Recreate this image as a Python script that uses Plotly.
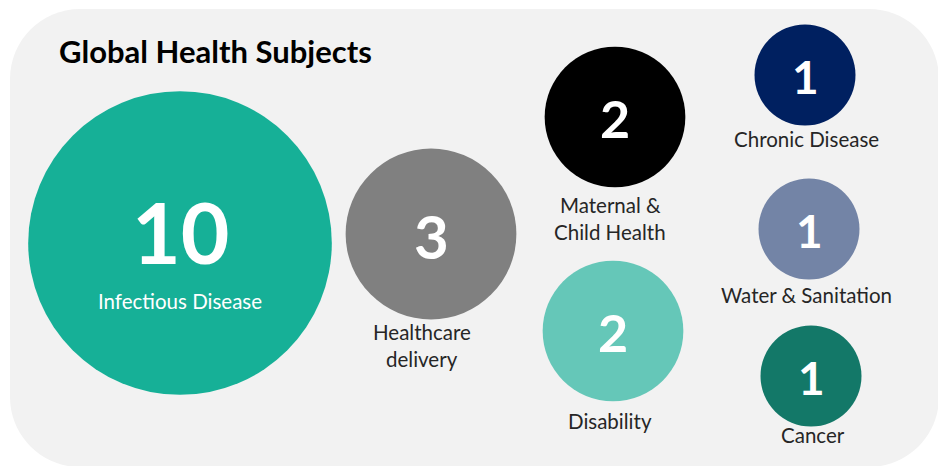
import plotly.graph_objects as go

# Subject counts
subjects = ["Infectious Disease", "Healthcare delivery", "Maternal & Child Health",
            "Disability", "Chronic Disease", "Water & Sanitation", "Cancer"]
counts = [10, 3, 2, 2, 1, 1, 1]

# Display text for each subject (line breaks as drawn)
label_lines = [["Infectious Disease"], ["Healthcare", "delivery"], ["Maternal &", "Child Health"],
               ["Disability"], ["Chronic Disease"], ["Water & Sanitation"], ["Cancer"]]

# Bubble placement on a pixel-sized canvas (x right, y down)
centers_x = [180, 431, 615, 613, 805, 809, 811]
centers_y = [243, 234, 117, 331, 75, 229, 376]
colors = ["#16B097", "#808080", "#000000", "#65C7B8", "#002060", "#7384A6", "#137868"]
# label anchor (centre of first line) and whether it sits inside the bubble
label_x = [180, 422, 610, 610, 806, 806, 813]
label_y = [301, 332, 205, 421, 139, 295, 435]
label_inside = [True, False, False, False, False, False, False]
num_dy = [-12, 2, 1, 1, 1, 1, 1]

W, H = 938, 466


def radius(v):
    return 50.5 * v ** 0.478


FONT = "Lato"

fig = go.Figure()

# rounded panel behind the bubbles
x0, y0, x1, y1, r = 10, 9, 939, 467, 70
k = 0.5523 * r
panel = (f"M {x0+r},{y0} L {x1-r},{y0} C {x1-r+k},{y0} {x1},{y0+r-k} {x1},{y0+r} "
         f"L {x1},{y1-r} C {x1},{y1-r+k} {x1-r+k},{y1} {x1-r},{y1} "
         f"L {x0+r},{y1} C {x0+r-k},{y1} {x0},{y1-r+k} {x0},{y1-r} "
         f"L {x0},{y0+r} C {x0},{y0+r-k} {x0+r-k},{y0} {x0+r},{y0} Z")
fig.add_shape(type="path", path=panel, xref="x", yref="y",
              fillcolor="#F2F2F2", line=dict(width=0), layer="below")

fig.add_trace(go.Scatter(
    x=centers_x, y=centers_y, mode="markers",
    marker=dict(size=[2 * radius(v) for v in counts], color=colors,
                line=dict(width=0), opacity=1),
    text=subjects, hoverinfo="text", showlegend=False,
))

annotations = []
for i, v in enumerate(counts):
    fs = 84 if v >= 10 else (60 if v == 3 else (52 if v == 2 else 46))
    annotations.append(dict(
        x=centers_x[i], y=centers_y[i] + num_dy[i], text=f"<b>{v}</b>",
        showarrow=False, xanchor="center", yanchor="middle",
        font=dict(family=FONT, size=fs, color="white"),
    ))
    for j, line in enumerate(label_lines[i]):
        annotations.append(dict(
            x=label_x[i], y=label_y[i] + 27 * j, text=line,
            showarrow=False, xanchor="center", yanchor="middle",
            font=dict(family=FONT, size=20.5,
                      color="white" if label_inside[i] else "#262626"),
        ))

annotations.append(dict(
    x=57, y=51, text="<b>Global Health Subjects</b>", showarrow=False,
    xanchor="left", yanchor="middle",
    font=dict(family=FONT, size=31, color="#000000"),
))

fig.update_layout(
    width=W, height=H, margin=dict(l=0, r=0, t=0, b=0),
    paper_bgcolor="white", plot_bgcolor="white",
    xaxis=dict(range=[0, W], visible=False, fixedrange=True),
    yaxis=dict(range=[H, 0], visible=False, fixedrange=True),
    annotations=annotations,
)

fig.write_html("out.html", config={"displayModeBar": False})
